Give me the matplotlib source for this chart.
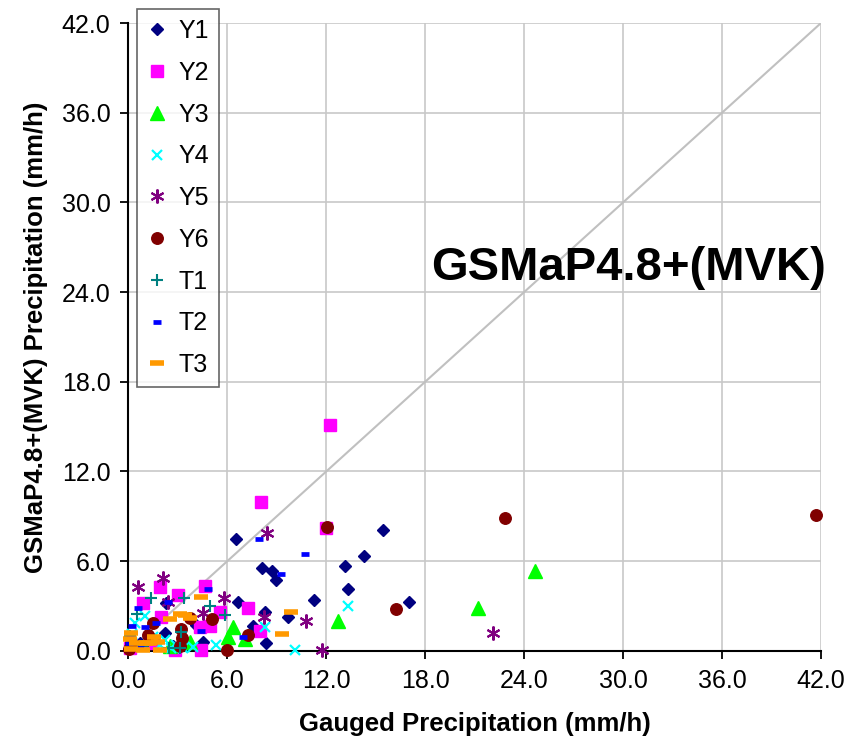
import matplotlib
matplotlib.use("Agg")
import matplotlib.pyplot as plt
from matplotlib.ticker import FormatStrFormatter, MultipleLocator

plt.rcParams["font.family"] = ["Liberation Sans", "DejaVu Sans"]

# gauged (x) vs satellite (y) precipitation, mm/h
y1_x = [6.54, 8.11, 8.71, 8.92, 13.11, 14.27, 13.31, 11.24, 15.44, 17.0, 6.64, 8.31, 9.67, 7.55, 4.11, 4.52, 8.36, 0.68, 2.19, 2.7, 1.49, 0.17, 2.29]
y1_y = [7.5, 5.55, 5.3, 4.75, 5.67, 6.36, 4.16, 3.38, 8.07, 3.27, 3.23, 2.6, 2.27, 1.67, 1.75, 0.55, 0.5, 0.5, 1.2, 0.3, 0.8, 0.2, 3.2]

y2_x = [12.2, 12.0, 8.06, 1.89, 3.0, 4.62, 0.88, 1.99, 5.58, 7.25, 7.96, 4.92, 4.32, 4.42, 2.8, 1.38, 0.1]
y2_y = [15.1, 8.2, 9.95, 4.27, 3.76, 4.3, 3.16, 2.25, 2.58, 2.83, 1.3, 1.65, 1.6, 0.08, 0.05, 0.5, 0.2]

y3_x = [24.64, 21.2, 12.71, 6.34, 6.04, 7.05, 3.71, 2.5]
y3_y = [5.33, 2.87, 1.98, 1.6, 0.93, 0.76, 0.6, 0.3]

y4_x = [13.31, 8.26, 10.08, 5.33, 3.91, 0.98, 0.37, 2.19, 2.6, 2.9, 3.31, 1.49, 0.2, 1.89]
y4_y = [3.0, 1.6, 0.05, 0.38, 0.25, 2.3, 1.85, 0.7, 0.15, 0.35, 0.2, 0.9, 1.1, 0.4]

y5_x = [8.41, 2.09, 0.58, 2.4, 5.78, 4.52, 8.21, 10.79, 11.75, 22.11]
y5_y = [7.87, 4.87, 4.23, 3.27, 3.5, 2.49, 2.27, 2.0, 0.07, 1.16]

y6_x = [41.7, 22.82, 12.05, 16.25, 5.07, 7.25, 6.0, 1.49, 3.2, 3.26, 3.71, 0.17, 1.18, 3.1, 0.05]
y6_y = [9.1, 8.9, 8.3, 2.78, 2.09, 1.07, 0.05, 1.83, 1.45, 0.83, 2.2, 0.5, 1.05, 0.3, 0.1]

t1_x = [1.38, 3.36, 4.92, 5.83, 0.53, 3.2, 2.45, 3.1, 0.1, 0.88]
t1_y = [3.5, 3.5, 3.0, 2.4, 2.45, 1.27, 0.16, 0.16, 1.0, 0.3]

t2_x = [7.91, 10.69, 9.22, 4.82, 2.4, 0.58, 4.42, 6.94, 0.22, 0.98, 1.69, 0.1, 0.05, 0.68]
t2_y = [7.5, 6.5, 5.1, 4.15, 3.27, 2.83, 1.32, 0.95, 1.65, 1.56, 1.83, 0.83, 0.5, 0.2]

t3_x = [4.37, 3.1, 3.71, 2.5, 9.88, 9.32, 1.54, 0.17, 0.48, 1.28, 0.88, 1.89, 0.17, 1.08, 1.79, 3.41, 0.1]
t3_y = [3.6, 2.43, 2.2, 2.09, 2.56, 1.09, 0.95, 1.18, 0.49, 0.49, 0.05, 0.05, 0.1, 0.5, 0.6, 2.38, 0.8]

series = [
    ("Y1", y1_x, y1_y, dict(marker="D", ms=6, color="#000080", mec="#000080")),
    ("Y2", y2_x, y2_y, dict(marker="s", ms=8.3, color="#FF00FF", mec="#FF00FF")),
    ("Y3", y3_x, y3_y, dict(marker="^", ms=9.5, color="#00FF00", mec="#00FF00")),
    ("Y4", y4_x, y4_y, dict(marker="x", ms=7.5, color="#00FFFF", mew=1.6)),
    ("Y5", y5_x, y5_y, dict(marker=(6, 2, 0), ms=10, color="#800080", mew=1.5)),
    ("Y6", y6_x, y6_y, dict(marker="o", ms=8.3, color="#800000", mec="#800000")),
    ("T1", t1_x, t1_y, dict(marker="+", ms=9, color="#008080", mew=1.5)),
    ("T2", t2_x, t2_y, dict(marker="_", ms=6, color="#0000FF", mew=3.4)),
    ("T3", t3_x, t3_y, dict(marker="_", ms=10.5, color="#FF9900", mew=4)),
]

fig = plt.figure(figsize=(8.52, 7.52), dpi=100)
ax = fig.add_axes([0.1508, 0.1347, 0.8128, 0.8347])

ax.plot([0, 42], [0, 42], color="#C0C0C0", lw=1.5, zorder=1)

for name, xs, ys, style in series:
    ax.plot(xs, ys, linestyle="none", label=name, clip_on=False, zorder=3, **style)

ax.set_xlim(0, 42)
ax.set_ylim(0, 42)
ax.xaxis.set_major_locator(MultipleLocator(6))
ax.yaxis.set_major_locator(MultipleLocator(6))
ax.xaxis.set_major_formatter(FormatStrFormatter("%.1f"))
ax.yaxis.set_major_formatter(FormatStrFormatter("%.1f"))
ax.grid(True, color="#C8C8C8", lw=1.2)
ax.set_axisbelow(True)
for side in ["top", "right"]:
    ax.spines[side].set_visible(False)
ax.spines["left"].set_linewidth(1.5)
ax.spines["bottom"].set_linewidth(1.5)
ax.tick_params(direction="out", length=6, width=1.3, labelsize=18, pad=7)

ax.set_xlabel("Gauged Precipitation (mm/h)", fontsize=18.5, fontweight="bold", labelpad=14)
ax.set_ylabel("GSMaP4.8+(MVK) Precipitation (mm/h)", fontsize=18.5, fontweight="bold", labelpad=10)

ax.text(30.3, 25.6, "GSMaP4.8+(MVK)", fontsize=34, fontweight="bold",
        ha="center", va="center")

leg = fig.legend(loc="upper left", bbox_to_anchor=(0.161, 0.988), fontsize=18,
                 frameon=True, fancybox=False, edgecolor="#404040",
                 borderaxespad=0, labelspacing=0.71, handlelength=0.8,
                 handletextpad=0.45, borderpad=0.4, numpoints=1)
leg.get_frame().set_linewidth(1.2)

fig.savefig("out.png", dpi=100)
